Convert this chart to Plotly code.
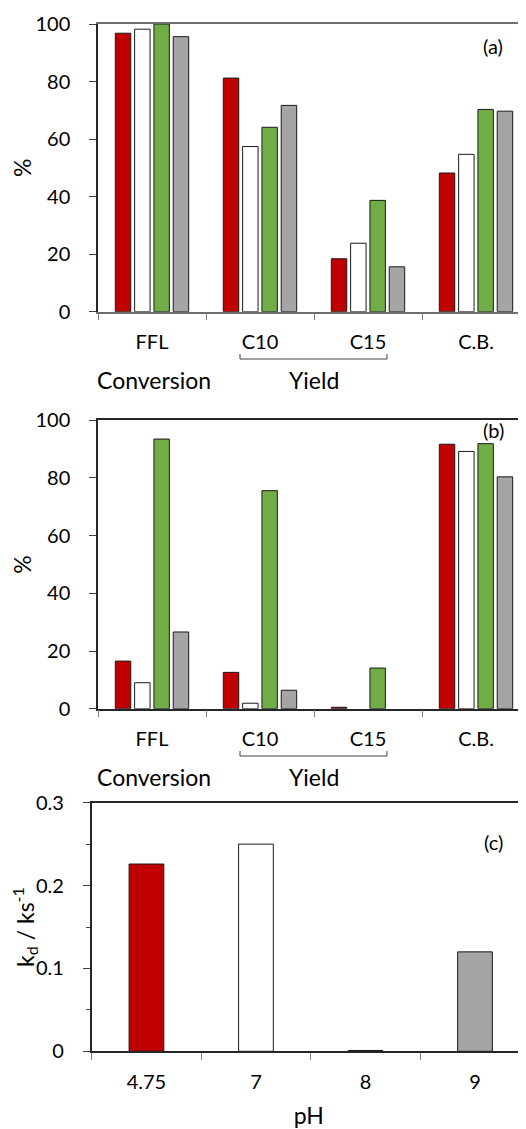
import plotly.graph_objects as go

# Browser body margin (8 px) offsets the figure; the figure fills the rest of the window.
OFF = 8
WIN_W, WIN_H = 526, 1129
W, H = WIN_W - OFF, WIN_H - OFF

categories = ["FFL", "C10", "C15", "C.B."]
series_names = ["pH 4.75", "pH 7", "pH 8", "pH 9"]
series_colors = ["#C00000", "#FFFFFF", "#70AD47", "#A5A5A5"]

# Panel (a) values (%)
a_ph475 = [96.8, 81.2, 18.4, 48.2]
a_ph7 = [98.2, 57.4, 23.8, 54.7]
a_ph8 = [100.0, 64.1, 38.7, 70.3]
a_ph9 = [95.6, 71.7, 15.6, 69.7]

# Panel (b) values (%); None = no bar drawn
b_ph475 = [16.5, 12.6, 0.5, 91.7]
b_ph7 = [9.0, 1.9, None, 89.2]
b_ph8 = [93.5, 75.6, 14.1, 91.9]
b_ph9 = [26.6, 6.4, None, 80.4]

# Panel (c) values (kd / ks^-1)
ph_labels = ["4.75", "7", "8", "9"]
kd_values = [0.226, 0.250, 0.001, 0.120]

FONT = "Lato"
TXT = "#000000"

def px_x(x):
    return (x - OFF) / W

def px_y(y):
    return 1 - (y - OFF) / H

fig = go.Figure()

panel_a = [a_ph475, a_ph7, a_ph8, a_ph9]
panel_b = [b_ph475, b_ph7, b_ph8, b_ph9]

for name, col, vals in zip(series_names, series_colors, panel_a):
    fig.add_trace(go.Bar(x=categories, y=vals, name=name, marker=dict(color=col, line=dict(color="#1a1a1a", width=1)),
                         xaxis="x", yaxis="y", showlegend=False))
for name, col, vals in zip(series_names, series_colors, panel_b):
    fig.add_trace(go.Bar(x=categories, y=vals, name=name, marker=dict(color=col, line=dict(color="#1a1a1a", width=1)),
                         xaxis="x2", yaxis="y2", showlegend=False))
fig.add_trace(go.Bar(x=ph_labels, y=kd_values, name="kd", width=0.317,
                     marker=dict(color=series_colors, line=dict(color="#1a1a1a", width=1)),
                     xaxis="x3", yaxis="y3", showlegend=False))

tickfont = dict(family=FONT, size=20, color=TXT)

def xax(domain_left, rng, anchor, linecolor, title=None):
    d = dict(domain=[domain_left, 1.0], range=rng, anchor=anchor, type="category", automargin=False,
             showline=True, linecolor=linecolor, linewidth=1.5, mirror=True,
             ticks="outside", tickson="boundaries", ticklen=7, tickcolor="#7f7f7f", tickwidth=1,
             showgrid=False, zeroline=False, tickfont=tickfont, ticklabelstandoff=12, fixedrange=True)
    if title:
        d["title"] = dict(text=title, font=dict(family=FONT, size=23, color=TXT), standoff=19)
    return d

def yax(domain, rng, anchor, dtick, title, standoff, minor=False):
    d = dict(domain=domain, range=rng, anchor=anchor, showline=True, linecolor="#262626", linewidth=1.5,
             automargin=False,
             ticks="outside", ticklen=7, tickcolor="#404040", tickwidth=1, dtick=dtick, tick0=0,
             showgrid=False, zeroline=False, tickfont=tickfont, ticklabelstandoff=15, fixedrange=True,
             title=dict(text=title, font=dict(family=FONT, size=23, color=TXT), standoff=standoff))
    if minor:
        d["minor"] = dict(dtick=dtick / 2, ticks="outside", ticklen=4, tickcolor="#404040", showgrid=False)
    return d

fig.update_layout(
    width=W, height=H,
    margin=dict(l=0, r=0, t=0, b=0, autoexpand=False),
    paper_bgcolor="white", plot_bgcolor="white",
    barmode="group", bargap=0.285, bargroupgap=0.2,
    xaxis=xax(px_x(98), [-0.5, 3.463], "y", "#6e6e6e"),
    yaxis=yax([px_y(311.7), px_y(24)], [0, 100], "x", 20, "%", 12),
    xaxis2=xax(px_x(98), [-0.5, 3.463], "y2", "#262626"),
    yaxis2=yax([px_y(708.7), px_y(420.3)], [0, 100], "x2", 20, "%", 12),
    xaxis3=xax(px_x(91.7), [-0.5, 3.466], "y3", "#262626", title="pH"),
    yaxis3=yax([px_y(1051.3), px_y(802.7)], [0, 0.3], "x3", 0.1, "k<sub>d</sub> / ks<sup>-1</sup>", 8, minor=True),
)

annotations = []
shapes = []
for base in (0, 397):
    annotations.append(dict(text="Conversion", x=px_x(154), y=px_y(380 + base), xref="paper", yref="paper",
                            showarrow=False, font=dict(family=FONT, size=23, color=TXT), xanchor="center", yanchor="middle"))
    annotations.append(dict(text="Yield", x=px_x(314), y=px_y(380 + base), xref="paper", yref="paper",
                            showarrow=False, font=dict(family=FONT, size=23, color=TXT), xanchor="center", yanchor="middle"))
    # bracket under C10 / C15
    shapes.append(dict(type="path", xref="paper", yref="paper",
                       path=f"M {px_x(240)} {px_y(354 + base)} L {px_x(240)} {px_y(359 + base)} L {px_x(387)} {px_y(359 + base)} L {px_x(387)} {px_y(354 + base)}",
                       line=dict(color="#404040", width=1)))

for lbl, yy in (("(a)", 46), ("(b)", 430), ("(c)", 842)):
    annotations.append(dict(text=lbl, x=px_x(493), y=px_y(yy), xref="paper", yref="paper", showarrow=False,
                            font=dict(family=FONT, size=20, color=TXT), xanchor="center", yanchor="middle"))

fig.update_layout(annotations=annotations, shapes=shapes)

fig.write_html("out.html")
